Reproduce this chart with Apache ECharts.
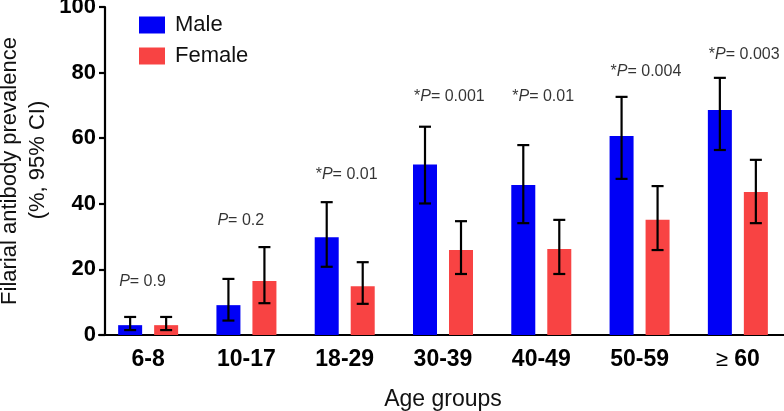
<!DOCTYPE html>
<html>
<head>
<meta charset="utf-8">
<script src="https://cdn.jsdelivr.net/npm/echarts@6/dist/echarts.min.js"></script>
<style>html,body{margin:0;padding:0;background:#fff}#c{width:784px;height:411px}</style>
</head>
<body>
<div id="c"></div>
<script>
const categories = ['6-8', '10-17', '18-29', '30-39', '40-49', '50-59', '≥ 60'];
const maleValues = [3.0, 9.1, 29.8, 52.0, 45.7, 60.7, 68.6];
const maleLow = [1.5, 4.4, 20.8, 40.1, 34.1, 47.6, 56.4];
const maleHigh = [5.5, 17.1, 40.5, 63.5, 57.9, 72.6, 78.4];
const femaleValues = [3.0, 16.5, 14.9, 25.9, 26.2, 35.1, 43.6];
const femaleLow = [1.5, 9.7, 9.5, 18.6, 18.6, 25.9, 34.1];
const femaleHigh = [5.5, 26.8, 22.2, 34.7, 35.1, 45.4, 53.4];
const pValues = ['0.9', '0.2', '0.01', '0.001', '0.01', '0.004', '0.003'];
const pSignificant = [false, false, true, true, true, true, true];
const pLabelY = [16.2, 34.8, 48.8, 72.6, 72.6, 80.2, 85.4];
const yTicks = [0, 20, 40, 60, 80, 100];

const FONT = '"Liberation Sans", Arial, Helvetica, sans-serif';
const BAR_W = 24;
const BAR_OFF = 18;
const CAP = 6;

function errData(lo, hi) {
  return lo.map((v, i) => [i, v, hi[i]]);
}
function errRender(offset) {
  return function (params, api) {
    const i = api.value(0);
    const a = api.coord([i, api.value(1)]);
    const b = api.coord([i, api.value(2)]);
    const x = a[0] + offset;
    const st = { stroke: '#000', lineWidth: 2.2 };
    return {
      type: 'group',
      children: [
        { type: 'line', shape: { x1: x, y1: a[1], x2: x, y2: b[1] }, style: st },
        { type: 'line', shape: { x1: x - CAP, y1: a[1], x2: x + CAP, y2: a[1] }, style: st },
        { type: 'line', shape: { x1: x - CAP, y1: b[1], x2: x + CAP, y2: b[1] }, style: st }
      ]
    };
  };
}

const chart = echarts.init(document.getElementById('c'), null, { renderer: 'canvas' });
chart.setOption({
  animation: false,
  textStyle: { fontFamily: FONT },
  grid: { left: 99, right: -3, top: 7, bottom: 76, containLabel: false, outerBoundsMode: 'none' },
  legend: {
    orient: 'vertical', left: 139, top: 14, padding: 0,
    itemWidth: 26, itemHeight: 17, itemGap: 9, icon: 'rect',
    textStyle: { fontSize: 22, color: '#111', fontFamily: FONT, padding: [0, 0, 0, 5] },
    data: ['Male', 'Female']
  },
  xAxis: {
    type: 'category', data: categories,
    axisLine: { lineStyle: { color: '#000', width: 2.2 } },
    axisTick: { alignWithLabel: true, length: 7, lineStyle: { color: '#000', width: 2.2 } },
    axisLabel: {
      interval: 0,
      margin: 13, fontSize: 23, fontWeight: 'bold', color: '#000', fontFamily: FONT,
      formatter: function (v) {
        if (v.indexOf('≥') === 0) return '{r|≥}' + v.slice(1);
        return v;
      },
      rich: { r: { fontSize: 22, fontWeight: 'normal', color: '#000', fontFamily: FONT } }
    },
    name: 'Age groups', nameLocation: 'middle', nameGap: 53,
    nameTextStyle: { fontSize: 23, color: '#111', fontFamily: FONT }
  },
  yAxis: {
    type: 'value', min: 0, max: 100, interval: 20, offset: -6,
    axisLine: { show: true, lineStyle: { color: '#000', width: 2.2 } },
    axisTick: { show: true, length: 6, lineStyle: { color: '#000', width: 2.2 } },
    splitLine: { show: false },
    axisLabel: {
      margin: 9, fontSize: 22, fontWeight: 'bold', color: '#000', fontFamily: FONT,
      formatter: function (v) { return yTicks.indexOf(v) >= 0 ? String(v) : ''; }
    },
    name: '{a|Filarial antibody prevalence}\n{b|(%, 95% CI)}', nameLocation: 'middle', nameGap: 53, nameRotate: 90,
    nameMoveOverlap: false,
    nameTextStyle: {
      fontSize: 22, color: '#111', fontFamily: FONT, lineHeight: 28, align: 'center',
      rich: {
        a: { fontSize: 22, color: '#111', fontFamily: FONT, lineHeight: 28 },
        b: { fontSize: 22, color: '#111', fontFamily: FONT, lineHeight: 28, padding: [0, 0, 0, 22] }
      }
    }
  },
  series: [
    { name: 'Male', type: 'bar', data: maleValues, barWidth: BAR_W, barGap: '50%',
      itemStyle: { color: '#0000F6' } },
    { name: 'Female', type: 'bar', data: femaleValues, barWidth: BAR_W,
      itemStyle: { color: '#F84343' } },
    { type: 'custom', data: errData(maleLow, maleHigh), renderItem: errRender(-BAR_OFF),
      encode: { x: 0, y: [1, 2] }, z: 5 },
    { type: 'custom', data: errData(femaleLow, femaleHigh), renderItem: errRender(BAR_OFF),
      encode: { x: 0, y: [1, 2] }, z: 5 },
    { type: 'scatter', symbolSize: 0, z: 6,
      data: pLabelY.map((y, i) => [i, y]),
      label: {
        show: true, position: 'inside', align: 'left', offset: [-29, 0],
        formatter: function (p) {
          const i = p.dataIndex;
          return (pSignificant[i] ? '{n|*}' : '') + '{i|P}{n|= ' + pValues[i] + '}';
        },
        rich: {
          n: { fontSize: 16, color: '#000', fontFamily: FONT },
          i: { fontSize: 16, color: '#000', fontStyle: 'italic', fontFamily: FONT }
        }
      }
    }
  ]
});
</script>
</body>
</html>
